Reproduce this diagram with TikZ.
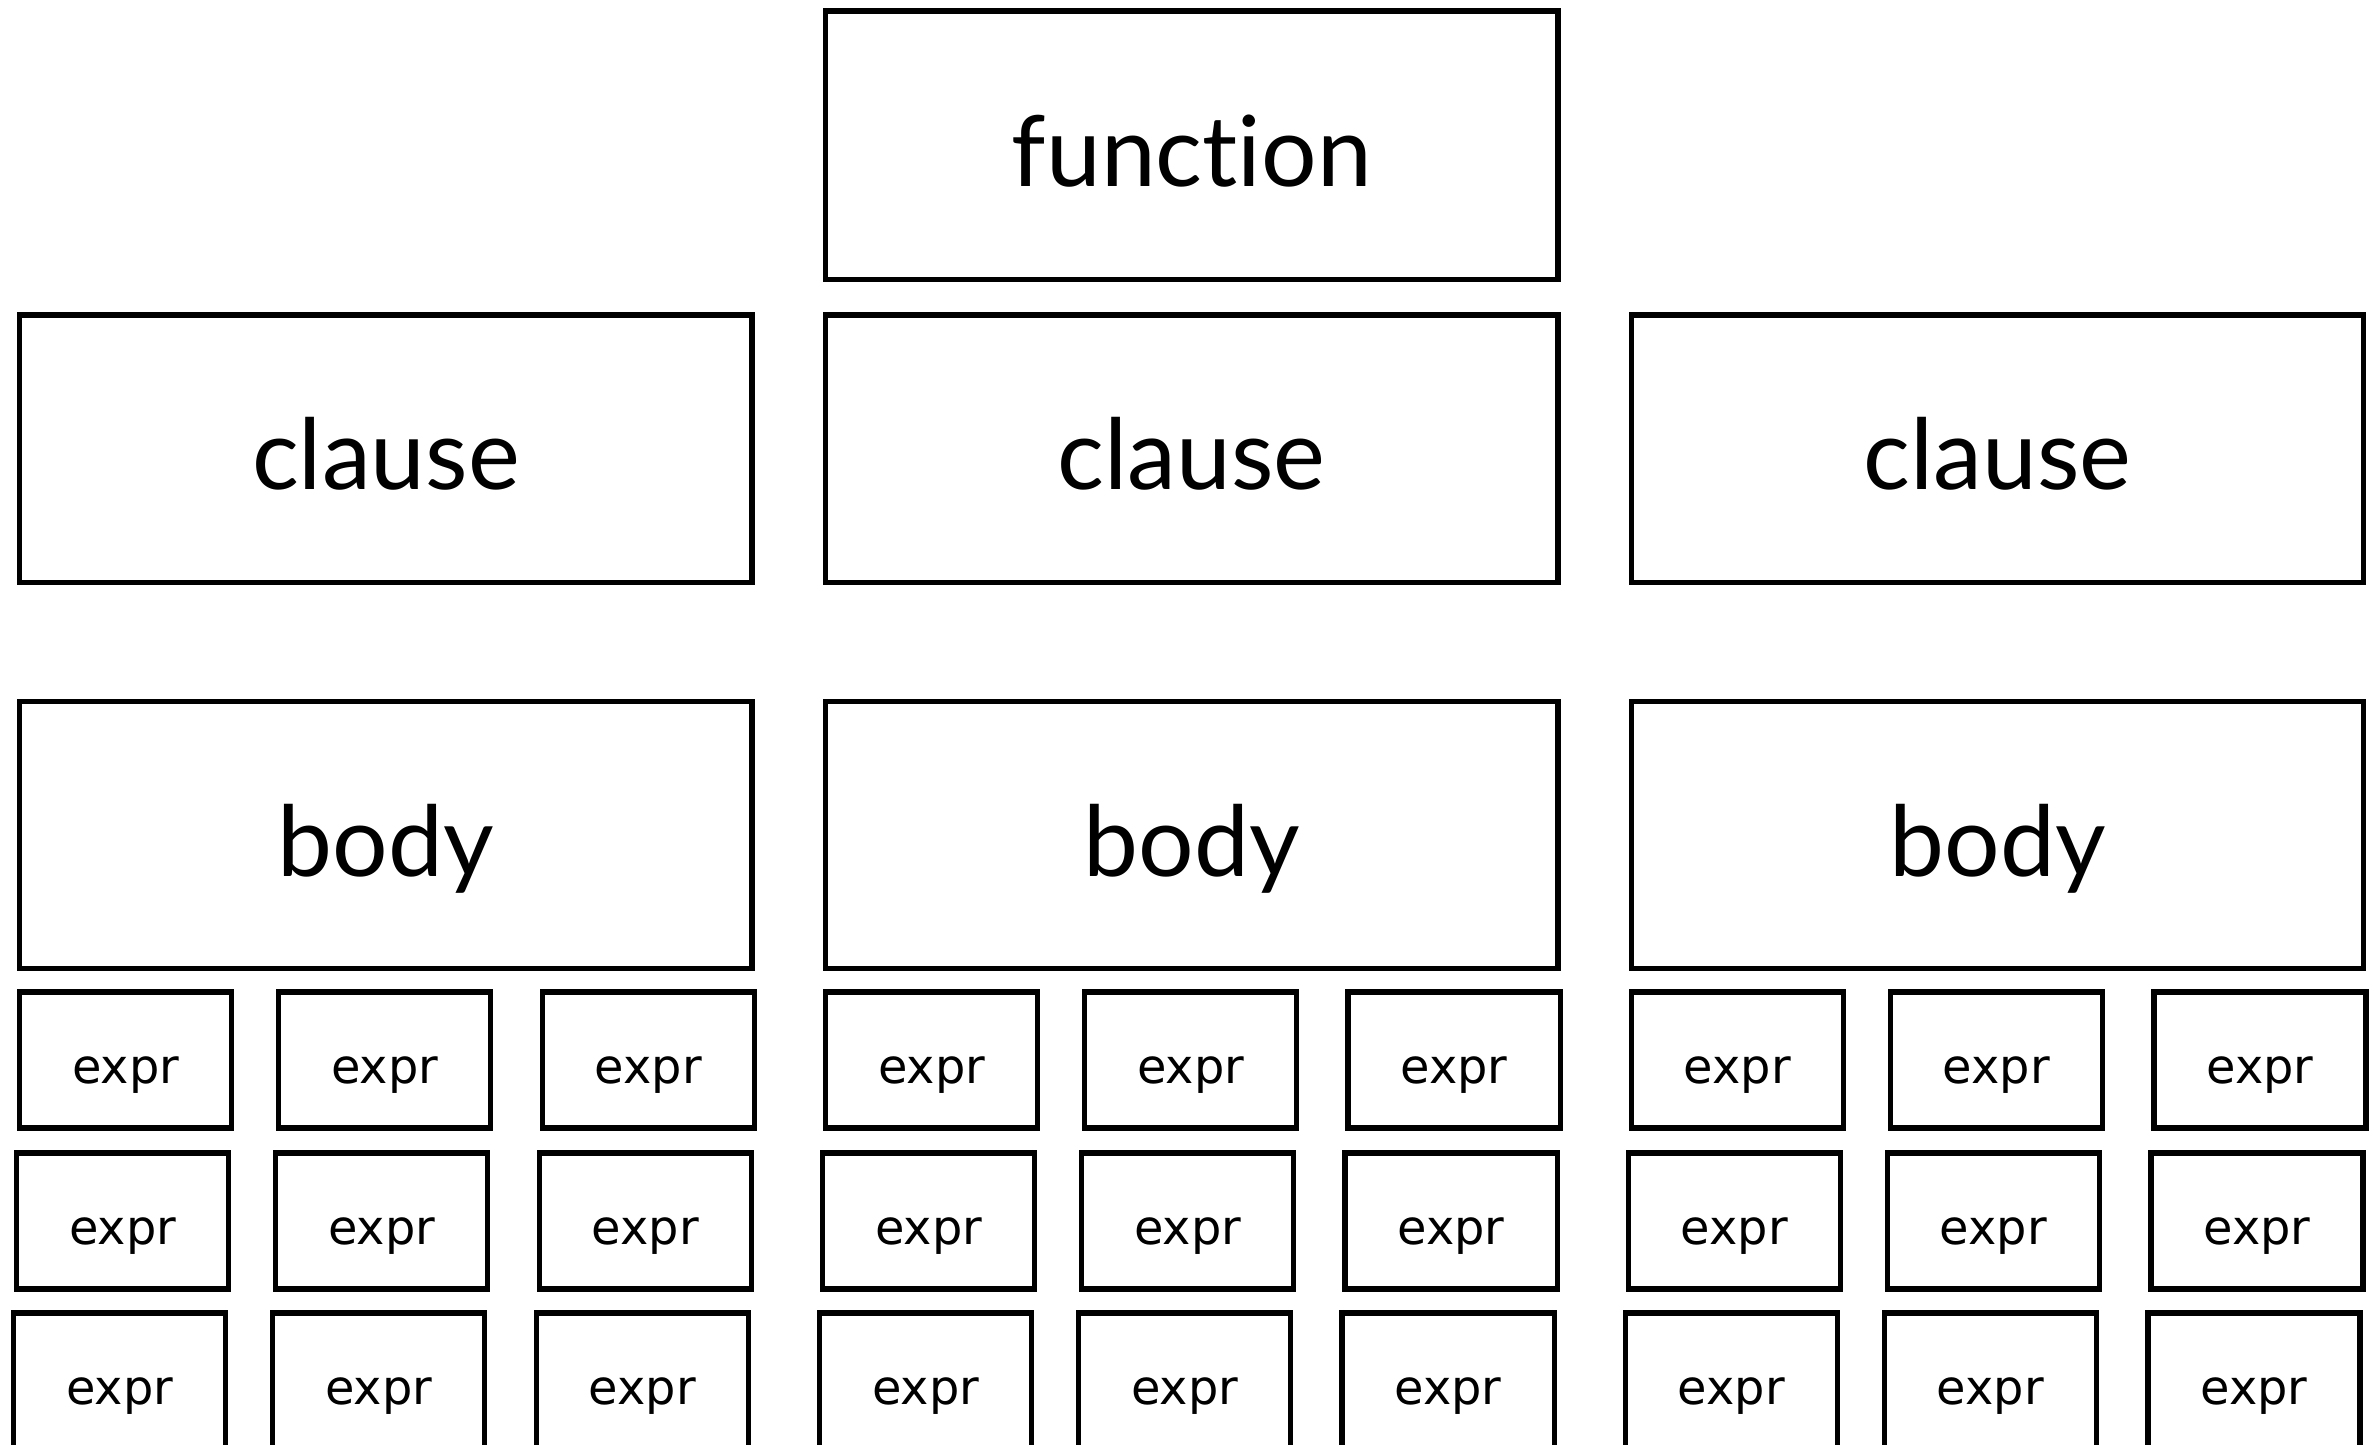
\documentclass[tikz,border=0pt]{standalone}
\usepackage{fontspec}
\newfontfamily\labelfont[Ligatures=NoCommon]{Lato}
\newfontfamily\exprfont{DejaVu Sans}

\tikzset{
  boxbase/.style={draw=black, line width=1.5pt, inner sep=0pt, outer sep=0pt,
    rectangle, anchor=north west},
  bigbox/.style={boxbase, minimum width=7.32cm, minimum height=2.67cm,
    font=\labelfont\fontsize{27.9pt}{30pt}\selectfont,
    text height=0.82cm, text depth=0cm},
  exprbox/.style={boxbase, minimum width=2.12cm, minimum height=1.36cm,
    font=\exprfont\fontsize{13.6pt}{15pt}\selectfont,
    text height=0.47cm, text depth=0cm},
}

\begin{document}
\begin{tikzpicture}[x=0.01cm, y=-0.01cm]
  \clip (0,0) rectangle (2375,1445);

  % top level
  \node[bigbox, minimum height=2.68cm] (fn) at (825.5,11) {function};

  % clauses
  \node[bigbox] (cl1) at (19.7,315) {clause};
  \node[bigbox] (cl2) at (825.5,315) {clause};
  \node[bigbox] (cl3) at (1631.3,315) {clause};

  % bodies
  \node[bigbox] (bd1) at (19.7,701.5) {body};
  \node[bigbox] (bd2) at (825.5,701.5) {body};
  \node[bigbox] (bd3) at (1631.3,701.5) {body};

  % grid of expressions, each row slightly shifted left
  \foreach \r/\y/\dx in {1/992/0, 2/1153/-3, 3/1313/-6} {
    \foreach \c/\x in {1/19.7, 2/278.7, 3/542.3,
                       4/825.5, 5/1084.5, 6/1348.0,
                       7/1631.3, 8/1890.3, 9/2153.9} {
      \node[exprbox] (ex\r\c) at (\x+\dx,\y) {expr};
    }
  }
\end{tikzpicture}
\end{document}
